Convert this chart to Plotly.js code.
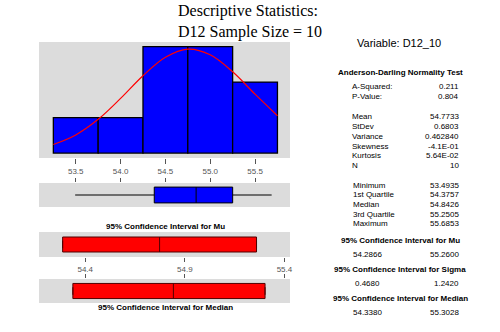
<!DOCTYPE html>
<html><head><meta charset="utf-8">
<script src="https://cdn.plot.ly/plotly-3.0.1.min.js"></script>
<style>html,body{margin:0;padding:0;background:#fff}</style>
</head><body><div id="chart" style="width:500px;height:332px"></div>
<script>
// Histogram (bin centres, counts)
const binCenters = [53.5, 54.0, 54.5, 55.0, 55.5];
const binCounts = [1, 1, 3, 3, 2];
// Fitted normal curve
const curveX = [53.25, 53.5, 53.75, 54.0, 54.25, 54.5, 54.75, 55.0, 55.25, 55.5, 55.75];
const curveY = [0.24, 0.51, 0.95, 1.54, 2.18, 2.70, 2.93, 2.77, 2.29, 1.66, 1.05];
// Box plot summary
const boxMin = 53.4935, boxQ1 = 54.3757, boxMed = 54.8426, boxQ3 = 55.2505, boxMax = 55.6853;
// Confidence intervals
const muCI = [54.2866, 54.7733, 55.2600];
const medianCI = [54.3380, 54.8426, 55.3028];
const histTicks = [53.5, 54.0, 54.5, 55.0, 55.5];
const ciTicks = [54.4, 54.9, 55.4];
// Stats table
const adLabels = ['A-Squared:', 'P-Value:'];
const adValues = ['0.211', '0.804'];
const momLabels = ['Mean', 'StDev', 'Variance', 'Skewness', 'Kurtosis', 'N'];
const momValues = ['54.7733', '0.6803', '0.462840', '-4.1E-01', '5.64E-02', '10'];
const qLabels = ['Minimum', '1st Quartile', 'Median', '3rd Quartile', 'Maximum'];
const qValues = ['53.4935', '54.3757', '54.8426', '55.2505', '55.6853'];
const ciTitles = ['95% Confidence Interval for Mu', '95% Confidence Interval for Sigma', '95% Confidence Interval for Median'];
const ciLow = ['54.2866', '0.4680', '54.3380'];
const ciHigh = ['55.2600', '1.2420', '55.3028'];

const W = 500, H = 332;
const px = x => x / W, py = y => 1 - y / H;
const sans = 'Liberation Sans, Arial, sans-serif';

const traces = [
  {type: 'bar', x: binCenters, y: binCounts, width: 0.5, xaxis: 'x', yaxis: 'y',
   marker: {color: '#0000FF', line: {color: '#000', width: 1.3}}, hoverinfo: 'none'},
  {type: 'scatter', mode: 'lines', x: curveX, y: curveY, xaxis: 'x', yaxis: 'y',
   line: {color: '#FF0000', width: 1.2, shape: 'spline'}, hoverinfo: 'none'},
  {type: 'box', orientation: 'h', y: [0], q1: [boxQ1], median: [boxMed], q3: [boxQ3],
   lowerfence: [boxMin], upperfence: [boxMax], xaxis: 'x2', yaxis: 'y2', width: 0.66,
   fillcolor: '#0000FF', line: {color: '#000', width: 1}, whiskerwidth: 0, hoverinfo: 'none'},
  {type: 'box', orientation: 'h', y: [0], q1: [muCI[0]], median: [muCI[1]], q3: [muCI[2]],
   lowerfence: [muCI[0]], upperfence: [muCI[2]], xaxis: 'x3', yaxis: 'y3', width: 0.6,
   fillcolor: '#FF0000', line: {color: '#500000', width: 1}, hoverinfo: 'none'},
  {type: 'box', orientation: 'h', y: [0], q1: [medianCI[0]], median: [medianCI[1]], q3: [medianCI[2]],
   lowerfence: [medianCI[0]], upperfence: [medianCI[2]], xaxis: 'x4', yaxis: 'y4', width: 0.63,
   fillcolor: '#FF0000', line: {color: '#500000', width: 1}, hoverinfo: 'none'}
];

const tickFont = {family: sans, size: 8, color: '#555'};
const xd = [px(39), px(290)];
const hideY = r => ({range: r, showticklabels: false, showgrid: false, zeroline: false, ticks: '', fixedrange: true});

const ann = [];
function addText(text, x, y, xanchor, font) {
  ann.push({text: text, xref: 'paper', yref: 'paper', x: px(x), y: py(y), xanchor: xanchor, yanchor: 'middle',
    showarrow: false, font: font, align: 'left'});
}
const f8 = {family: sans, size: 8, color: '#000'};
ann.push({text: 'Descriptive Statistics:<br>D12 Sample Size = 10', xref: 'paper', yref: 'paper', x: px(176), y: py(0),
  xanchor: 'left', yanchor: 'top', align: 'left', showarrow: false,
  font: {family: 'Liberation Serif, Times New Roman, serif', size: 16, color: '#000'}});
addText('Variable: D12_10', 399, 43, 'center', {family: sans, size: 11, color: '#000'});
addText('<b>Anderson-Darling Normality Test</b>', 400, 73, 'center', f8);
const rowH = 9.7;
function rows(labels, values, y0, lx) {
  labels.forEach((l, i) => {
    addText(l, lx, y0 + i * rowH, 'left', f8);
    addText(values[i], 461, y0 + i * rowH, 'right', f8);
  });
}
rows(adLabels, adValues, 87, 350);
rows(momLabels, momValues, 117, 350);
rows(qLabels, qValues, 185, 351);
const ciTitleY = [240, 269.5, 298.5];
ciTitles.forEach((t, i) => {
  addText('<b>' + t + '</b>', 400, ciTitleY[i], 'center', f8);
  addText(ciLow[i], 367, ciTitleY[i] + 14, 'center', f8);
  addText(ciHigh[i], 461, ciTitleY[i] + 14, 'right', f8);
});
addText('<b>95% Confidence Interval for Mu</b>', 165, 227, 'center', f8);
addText('<b>95% Confidence Interval for Median</b>', 165, 307.5, 'center', f8);

const layout = {
  width: W, height: H, margin: {l: 0, r: 0, t: 0, b: 0},
  paper_bgcolor: '#fff', plot_bgcolor: '#DCDCDC', showlegend: false, bargap: 0,
  xaxis: {domain: xd, anchor: 'y', range: [53.09, 55.89], tickvals: histTicks, tickformat: '.1f',
    ticks: 'outside', ticklen: 5, tickcolor: '#555', tickfont: tickFont, showgrid: false, zeroline: false, showline: false},
  yaxis: Object.assign({domain: [py(158), py(42)], anchor: 'x'}, hideY([-0.14, 3.13])),
  xaxis2: {domain: xd, anchor: 'y2', matches: 'x', side: 'top', tickvals: histTicks, ticks: 'outside', ticklen: 4,
    tickcolor: '#555', showticklabels: false, showgrid: false, zeroline: false, showline: false},
  yaxis2: Object.assign({domain: [py(207), py(183)], anchor: 'x2'}, hideY([-0.5, 0.5])),
  xaxis3: {domain: xd, anchor: 'y3', range: [54.168, 55.428], tickvals: ciTicks, tickformat: '.1f',
    ticks: 'outside', ticklen: 4, tickcolor: '#555', tickfont: tickFont, showgrid: false, zeroline: false, showline: false},
  yaxis3: Object.assign({domain: [py(257), py(232)], anchor: 'x3'}, hideY([-0.5, 0.5])),
  xaxis4: {domain: xd, anchor: 'y4', matches: 'x3', side: 'top', tickvals: ciTicks, ticks: 'outside', ticklen: 4,
    tickcolor: '#555', showticklabels: false, showgrid: false, zeroline: false, showline: false},
  yaxis4: Object.assign({domain: [py(303), py(279)], anchor: 'x4'}, hideY([-0.5, 0.5])),
  annotations: ann
};
Plotly.newPlot('chart', traces, layout, {staticPlot: true, displayModeBar: false});
</script></body></html>
